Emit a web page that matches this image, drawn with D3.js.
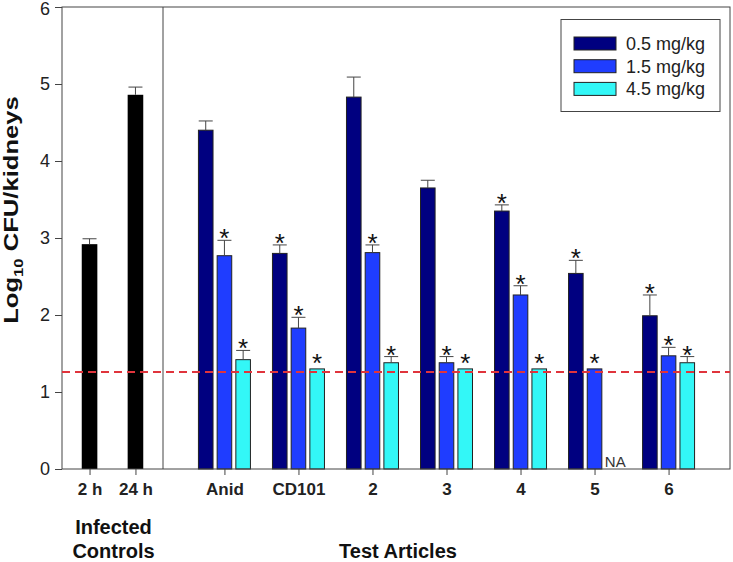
<!DOCTYPE html>
<html>
<head>
<meta charset="utf-8">
<script src="https://cdn.jsdelivr.net/npm/d3@7/dist/d3.min.js"></script>
<style>
  html, body { margin: 0; padding: 0; background: #fff; }
  svg { display: block; font-family: "Liberation Sans", Arial, sans-serif; }
</style>
</head>
<body>
<svg id="chart" width="733" height="562"></svg>
<script>
// ---- data ----
const controlCats = ["2 h", "24 h"];
const controlMeans = [2.92, 4.86];
const controlErr = [0.07, 0.10];

const articles = ["Anid", "CD101", "2", "3", "4", "5", "6"];
const series = ["0.5 mg/kg", "1.5 mg/kg", "4.5 mg/kg"];
const mean05 = [4.40, 2.80, 4.83, 3.65, 3.35, 2.54, 1.99];
const mean15 = [2.77, 1.83, 2.81, 1.38, 2.26, 1.30, 1.47];
const mean45 = [1.42, 1.30, 1.38, 1.30, 1.30, null, 1.38];
const err05 = [0.12, 0.11, 0.26, 0.10, 0.08, 0.17, 0.27];
const err15 = [0.20, 0.14, 0.10, 0.08, 0.12, 0, 0.11];
const err45 = [0.12, 0, 0.08, 0, 0, null, 0.08];
const sig05 = [false, true, false, false, true, true, true];
const sig15 = [true, true, true, true, true, true, true];
const sig45 = [true, true, true, true, true, null, true];
const yTicks = [0, 1, 2, 3, 4, 5, 6];
const lod = 1.26;

const seriesColors = ["#000080", "#1f3dff", "#33f7f7"];
const means = [mean05, mean15, mean45];
const errs = [err05, err15, err45];
const sigs = [sig05, sig15, sig45];

// ---- layout ----
const L = 62, R = 730, T = 7, B = 469, SEP = 163;
const svg = d3.select("#chart");
const font = "\"Liberation Sans\", Arial, sans-serif";

const y = d3.scaleLinear().domain([0, 6]).range([B, T]);
const xc = d3.scalePoint().domain(controlCats).range([L, SEP]).padding(0.6);
const xa = d3.scalePoint().domain(articles).range([SEP, R]).padding(0.83);
const xs = d3.scaleBand().domain(series).range([-26, 26]).paddingInner(0.22);

// y axis
const yAxis = svg.append("g").attr("transform", `translate(${L},0)`)
  .call(d3.axisLeft(y).tickValues(yTicks).tickFormat(d3.format("d")).tickSize(7).tickSizeOuter(0).tickPadding(5));
yAxis.select(".domain").remove();
yAxis.selectAll("line").attr("stroke", "#444");
yAxis.selectAll("text").attr("font-size", 18).attr("font-family", font).attr("fill", "#222")
  .attr("dy", d => d === 6 ? "0.4em" : "0.32em");

// x axes
function styleX(g) {
  g.select(".domain").remove();
  g.selectAll("line").attr("stroke", "#444");
  g.selectAll("text").attr("font-size", 17).attr("font-weight", "bold").attr("font-family", font).attr("fill", "#222");
}
svg.append("g").attr("transform", `translate(0,${B})`)
  .call(d3.axisBottom(xc).tickSize(6).tickPadding(8)).call(styleX);
svg.append("g").attr("transform", `translate(0,${B})`)
  .call(d3.axisBottom(xa).tickSize(6).tickPadding(8)).call(styleX);

// control bars
const cw = 15.6;
controlCats.forEach((c, i) => {
  const cx = xc(c);
  svg.append("rect").attr("x", cx - cw / 2).attr("y", y(controlMeans[i]))
    .attr("width", cw).attr("height", y(0) - y(controlMeans[i])).attr("fill", "#000");
  const top = y(controlMeans[i] + controlErr[i]);
  svg.append("line").attr("x1", cx).attr("x2", cx).attr("y1", y(controlMeans[i])).attr("y2", top).attr("stroke", "#444");
  svg.append("line").attr("x1", cx - 7).attr("x2", cx + 7).attr("y1", top).attr("y2", top).attr("stroke", "#444");
});

// test article bars
const bw = xs.bandwidth();
articles.forEach((a, i) => {
  series.forEach((s, k) => {
    const v = means[k][i];
    const x0 = xa(a) + xs(s);
    const cx = x0 + bw / 2;
    if (v === null) {
      svg.append("text").attr("x", cx + 2).attr("y", B - 2).attr("text-anchor", "middle")
        .attr("font-size", 15).attr("font-family", font).attr("fill", "#333").text("NA");
      return;
    }
    svg.append("rect").attr("x", x0).attr("y", y(v)).attr("width", bw).attr("height", y(0) - y(v))
      .attr("fill", seriesColors[k]).attr("stroke", "#222").attr("stroke-width", 1);
    const e = errs[k][i];
    const top = y(v + e);
    if (e > 0) {
      svg.append("line").attr("x1", cx).attr("x2", cx).attr("y1", y(v)).attr("y2", top).attr("stroke", "#444");
      svg.append("line").attr("x1", cx - 7).attr("x2", cx + 7).attr("y1", top).attr("y2", top).attr("stroke", "#444");
    }
    if (sigs[k][i]) {
      svg.append("text").attr("x", cx).attr("y", top + (e > 0 ? 7 : 3)).attr("text-anchor", "middle")
        .attr("font-size", 26).attr("font-family", font).attr("fill", "#111").text("*");
    }
  });
});

// frame and separator
svg.append("rect").attr("x", L).attr("y", T).attr("width", R - L).attr("height", B - T)
  .attr("fill", "none").attr("stroke", "#444").attr("stroke-width", 1);
svg.append("line").attr("x1", SEP).attr("x2", SEP).attr("y1", T).attr("y2", B).attr("stroke", "#444");

// LOD dashed line
svg.append("line").attr("x1", L).attr("x2", R).attr("y1", y(lod)).attr("y2", y(lod))
  .attr("stroke", "#e0343c").attr("stroke-width", 2).attr("stroke-dasharray", "8,5");

// legend
const lg = svg.append("g");
lg.append("rect").attr("x", 561).attr("y", 19.5).attr("width", 159).attr("height", 92)
  .attr("fill", "#fff").attr("stroke", "#444");
series.forEach((s, k) => {
  const cy = 43.5 + k * 22.7;
  lg.append("rect").attr("x", 574).attr("y", cy - 6.5).attr("width", 42).attr("height", 13)
    .attr("fill", seriesColors[k]).attr("stroke", "#222");
  lg.append("text").attr("x", 626).attr("y", cy + 6.5).attr("font-size", 18).attr("font-family", font)
    .attr("fill", "#222").text(s);
});

// y title
const yt = svg.append("text").attr("transform", "translate(18,210) rotate(-90) scale(1.28,1)")
  .attr("text-anchor", "middle").attr("font-size", 20).attr("font-weight", "bold").attr("font-family", font).attr("fill", "#111");
yt.append("tspan").text("Log");
yt.append("tspan").attr("font-size", 13).attr("dy", 5).text("10");
yt.append("tspan").attr("dy", -5).text(" CFU/kidneys");

// group titles
svg.append("text").attr("x", (L + SEP) / 2 + 1).attr("y", 534).attr("text-anchor", "middle")
  .attr("font-size", 20).attr("font-weight", "bold").attr("font-family", font).attr("fill", "#111").text("Infected");
svg.append("text").attr("x", (L + SEP) / 2 + 1).attr("y", 558).attr("text-anchor", "middle")
  .attr("font-size", 20).attr("font-weight", "bold").attr("font-family", font).attr("fill", "#111").text("Controls");
svg.append("text").attr("x", (L + R) / 2 + 2).attr("y", 558).attr("text-anchor", "middle")
  .attr("font-size", 20).attr("font-weight", "bold").attr("font-family", font).attr("fill", "#111").text("Test Articles");
</script>
</body>
</html>
